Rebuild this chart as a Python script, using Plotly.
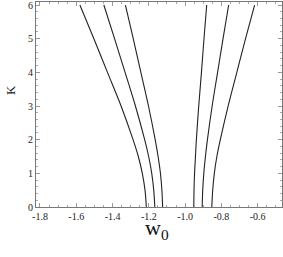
import plotly.graph_objects as go

K = [0, 0.5, 1, 1.5, 2, 3, 4, 5, 6]

w_left_outer = [-1.214, -1.221, -1.236, -1.258, -1.287, -1.353, -1.428, -1.503, -1.580]
w_left_mid = [-1.167, -1.173, -1.184, -1.201, -1.223, -1.274, -1.331, -1.389, -1.448]
w_left_inner = [-1.124, -1.128, -1.136, -1.149, -1.165, -1.202, -1.244, -1.286, -1.329]
w_right_inner = [-0.952, -0.951, -0.948, -0.943, -0.938, -0.925, -0.910, -0.896, -0.881]
w_right_mid = [-0.906, -0.903, -0.897, -0.888, -0.877, -0.851, -0.821, -0.791, -0.760]
w_right_outer = [-0.853, -0.848, -0.839, -0.825, -0.806, -0.763, -0.715, -0.667, -0.617]

x_ticks = [-1.8, -1.6, -1.4, -1.2, -1.0, -0.8, -0.6]
x_tick_labels = ["-1.8", "-1.6", "-1.4", "-1.2", "-1.0", "-0.8", "-0.6"]
y_ticks = [0, 1, 2, 3, 4, 5, 6]

W, H = 283, 257
L, R, T, B = 36, 1, 2, 50
pw, ph = W - L - R, H - T - B

fig = go.Figure()
for w in [w_left_outer, w_left_mid, w_left_inner, w_right_inner, w_right_mid, w_right_outer]:
    fig.add_trace(go.Scatter(x=w, y=K, mode="lines",
                             line=dict(color="#222222", width=1.1, shape="spline"),
                             showlegend=False, hoverinfo="skip"))

axis_common = dict(showgrid=False, zeroline=False, showline=True, linecolor="#777777",
                   linewidth=1, mirror="allticks", ticks="inside", ticklen=4,
                   tickcolor="#999999", tickwidth=1, ticklabeloverflow="allow",
                   tickfont=dict(family="Liberation Serif", size=10, color="#222222"))

fig.update_layout(
    width=W, height=H,
    margin=dict(l=L, r=R, t=T, b=B),
    paper_bgcolor="white", plot_bgcolor="white",
    xaxis=dict(range=[-1.822, -0.466], tickvals=x_ticks, ticktext=x_tick_labels,
               minor=dict(ticks="inside", dtick=0.05, tick0=-1.8, ticklen=2,
                          tickcolor="#aaaaaa", showgrid=False),
               **axis_common),
    yaxis=dict(range=[0, 6.09], tickvals=y_ticks,
               minor=dict(ticks="inside", dtick=0.2, tick0=0, ticklen=2,
                          tickcolor="#aaaaaa", showgrid=False),
               **axis_common),
    annotations=[
        dict(text="K", x=(10 - L) / pw, y=(H - B - 90) / ph, xref="paper", yref="paper",
             xanchor="center", yanchor="middle",
             showarrow=False, textangle=-90,
             font=dict(family="Liberation Serif", size=13, color="#222222")),
        dict(text="w<sub>0</sub>", x=(157 - L) / pw, y=(H - B - 229) / ph,
             xref="paper", yref="paper", xanchor="center", yanchor="middle",
             showarrow=False,
             font=dict(family="Liberation Serif", size=22, color="#111111")),
    ],
)

fig.write_html("out.html", config={"displayModeBar": False},
               post_script="document.body.style.margin='0';document.body.style.padding='0';")
